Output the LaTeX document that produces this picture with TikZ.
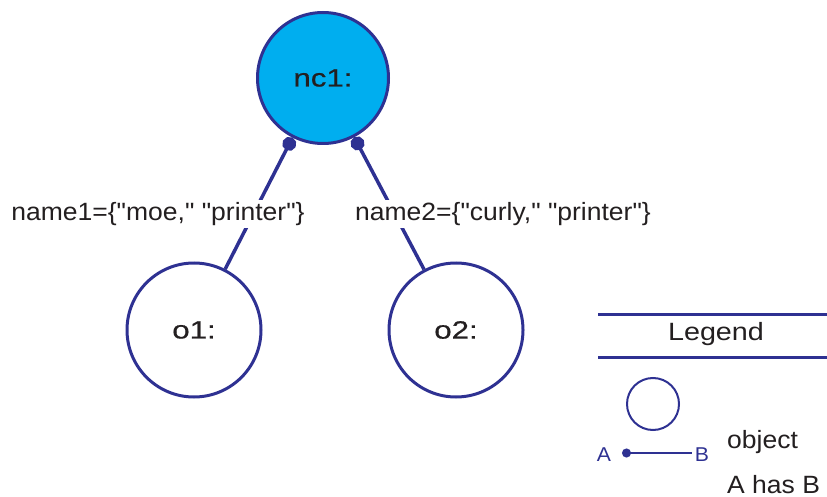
\documentclass[tikz,border=0pt]{standalone}
\usepackage{fontspec}
\setmainfont{Liberation Sans}[FakeStretch=1.06, Ligatures=TeXOff]
\newfontfamily\objfont{Liberation Sans}[FakeStretch=1.25, FakeBold=0.6, Ligatures=TeXOff]
\newfontfamily\legfont{Liberation Sans}[FakeStretch=1.15, Ligatures=TeXOff]
\usetikzlibrary{arrows.meta}
\definecolor{edgeblue}{HTML}{2E3192}
\definecolor{objfill}{HTML}{00AEEF}
\definecolor{ink}{HTML}{231F20}
\tikzset{
  obj/.style={circle, draw=edgeblue, line width=3pt, minimum size=#1, inner sep=0pt,
              text=ink, font=\objfont\fontsize{25}{28}\selectfont},
  obj/.default=134pt,
  has/.style={draw=edgeblue, line width=3.5pt, {Circle[length=14pt,width=14pt]}-},
  lbl/.style={fill=white, text=ink, inner sep=2pt, font=\fontsize{25}{28}\selectfont},
  legtxt/.style={text=ink, inner sep=0pt, anchor=base west, font=\fontsize{25}{28}\selectfont},
  legab/.style={text=edgeblue, inner sep=0pt, anchor=base, font=\fontsize{20}{23}\selectfont},
}
\begin{document}
\begin{tikzpicture}[x=1pt, y=-1pt]
\useasboundingbox (0,0) rectangle (827,497);

% objects
\node[obj=131pt, fill=objfill] (nc1) at (323,78) {nc1:};
\node[obj] (o1) at (194,330) {o1:};
\node[obj] (o2) at (456,330) {o2:};

% associations
\draw[has] (nc1) -- (o1);
\draw[has] (nc1) -- (o2);
\node[lbl] (l1) at (158,214) {name1=\{"moe," "printer"\}};
\node[lbl] (l2) at (503,214) {name2=\{"curly," "printer"\}};

% legend
\coordinate (lt1) at (598,314);
\coordinate (lt2) at (827,314);
\coordinate (lb1) at (598,357);
\coordinate (lb2) at (827,357);
\draw[edgeblue, line width=3pt] (lt1) -- (lt2);
\draw[edgeblue, line width=3pt] (lb1) -- (lb2);
\node[text=ink, font=\legfont\fontsize{25}{28}\selectfont] (legend) at (716,334) {Legend};
\node[circle, draw=edgeblue, line width=2pt, minimum size=52pt, inner sep=0pt] (legobj) at (653,404) {};
\node[legab] (la) at (604,461) {A};
\node[legab] (lbB) at (702,461) {B};
\coordinate (ls) at (622,453);
\coordinate (le) at (692,453);
\draw[edgeblue, line width=1.5pt, {Circle[length=9pt,width=9pt]}-] (ls) -- (le);
\node[legtxt] (tobj) at (727,448) {object};
\node[legtxt] (thas) at (727,493) {A has B};
\end{tikzpicture}
\end{document}
